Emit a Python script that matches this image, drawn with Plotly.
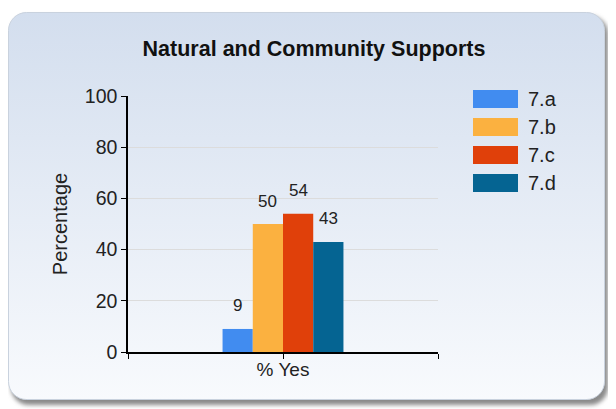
import base64
import plotly.graph_objects as go

# data
category = "% Yes"
series_names = ["7.a", "7.b", "7.c", "7.d"]
series_values = [9, 50, 54, 43]
series_colors = ["#418cf0", "#fbb140", "#e0400a", "#056492"]
y_ticks = [0, 20, 40, 60, 80, 100]

# page body has an 8px margin, so the figure is 8px smaller and everything
# below is given in window pixels and shifted by that offset
OFF = 8
W, H = 616 - OFF, 409 - OFF
FONT = "Liberation Sans, Arial, sans-serif"

px_x = lambda v: (v - OFF) / W
px_y = lambda v: 1 - (v - OFF) / H

# rounded card with gradient + soft shadow, as an inline svg
card_svg = f'''<svg xmlns="http://www.w3.org/2000/svg" width="{W}" height="{H}" viewBox="0 0 {W} {H}">
<defs>
<linearGradient id="g" x1="0" y1="0" x2="0" y2="1">
<stop offset="0" stop-color="#d3deee"/><stop offset="1" stop-color="#f8fafd"/>
</linearGradient>
<filter id="s" x="-5%" y="-5%" width="110%" height="110%"><feGaussianBlur stdDeviation="2.2"/></filter>
</defs>
<rect x="{11 - OFF}" y="{16 - OFF}" width="597" height="389" rx="18" fill="#8a8a8a" filter="url(#s)"/>
<rect x="{8 - OFF}.5" y="{12 - OFF}.5" width="596" height="387" rx="18" fill="url(#g)" stroke="#c9d2de" stroke-width="1"/>
</svg>'''
card_uri = "data:image/svg+xml;base64," + base64.b64encode(card_svg.encode()).decode()

bargap = 0.61
bar_w = (1 - bargap) / len(series_values)

fig = go.Figure()
annotations = []
for i, (name, val, col) in enumerate(zip(series_names, series_values, series_colors)):
    fig.add_trace(go.Bar(
        x=[0], y=[val], name=name,
        marker=dict(color=col, line=dict(width=0)),
        hoverinfo="skip",
    ))
    annotations.append(dict(text=str(val), xref="x", yref="y",
                            x=-(1 - bargap) / 2 + (i + 0.5) * bar_w, y=val,
                            yanchor="middle", yshift=23, showarrow=False,
                            font=dict(size=17, color="#222", family=FONT)))

# manual legend with wide swatches
shapes = []
for i, (name, col) in enumerate(zip(series_names, series_colors)):
    cy = 99 + i * 28
    shapes.append(dict(type="rect", xref="paper", yref="paper",
                       x0=px_x(473), x1=px_x(518), y0=px_y(cy - 9), y1=px_y(cy + 9),
                       fillcolor=col, line=dict(width=0)))
    annotations.append(dict(text=name, xref="paper", yref="paper",
                            x=px_x(526), y=px_y(cy), xanchor="left", yanchor="middle",
                            showarrow=False, font=dict(size=20, color="#222", family=FONT)))

fig.update_layout(
    width=W, height=H,
    margin=dict(l=0, r=0, t=0, b=0),
    paper_bgcolor="white", plot_bgcolor="white",
    font=dict(family=FONT, color="#222"),
    barmode="group", bargap=bargap, bargroupgap=0,
    showlegend=False,
    title=dict(text="<b>Natural and Community Supports</b>", x=px_x(314), y=px_y(48),
               xanchor="center", yanchor="middle", font=dict(size=21.5, color="#111")),
    images=[dict(source=card_uri, xref="paper", yref="paper", x=0, y=1,
                 sizex=1, sizey=1, sizing="stretch", layer="below")],
    shapes=shapes,
    annotations=annotations,
    xaxis=dict(domain=[px_x(128), px_x(438)], range=[-0.5, 0.5],
               tickvals=[-0.5, 0, 0.5], ticktext=["", category, ""],
               ticks="outside", ticklen=5, tickcolor="black",
               showline=True, linecolor="black", linewidth=1.5,
               showgrid=False, zeroline=False, automargin=False,
               ticklabelstandoff=-6,
               tickfont=dict(size=19)),
    yaxis=dict(domain=[px_y(352), px_y(96)], range=[0, 100],
               tickvals=y_ticks, ticks="outside", ticklen=5, tickcolor="black",
               showline=True, linecolor="black", linewidth=1.5,
               gridcolor="#dcdcdc", zeroline=False, automargin=False,
               tickfont=dict(size=19.5),
               title=dict(text="Percentage", font=dict(size=20), standoff=12)),
)

fig.write_html("out.html")
